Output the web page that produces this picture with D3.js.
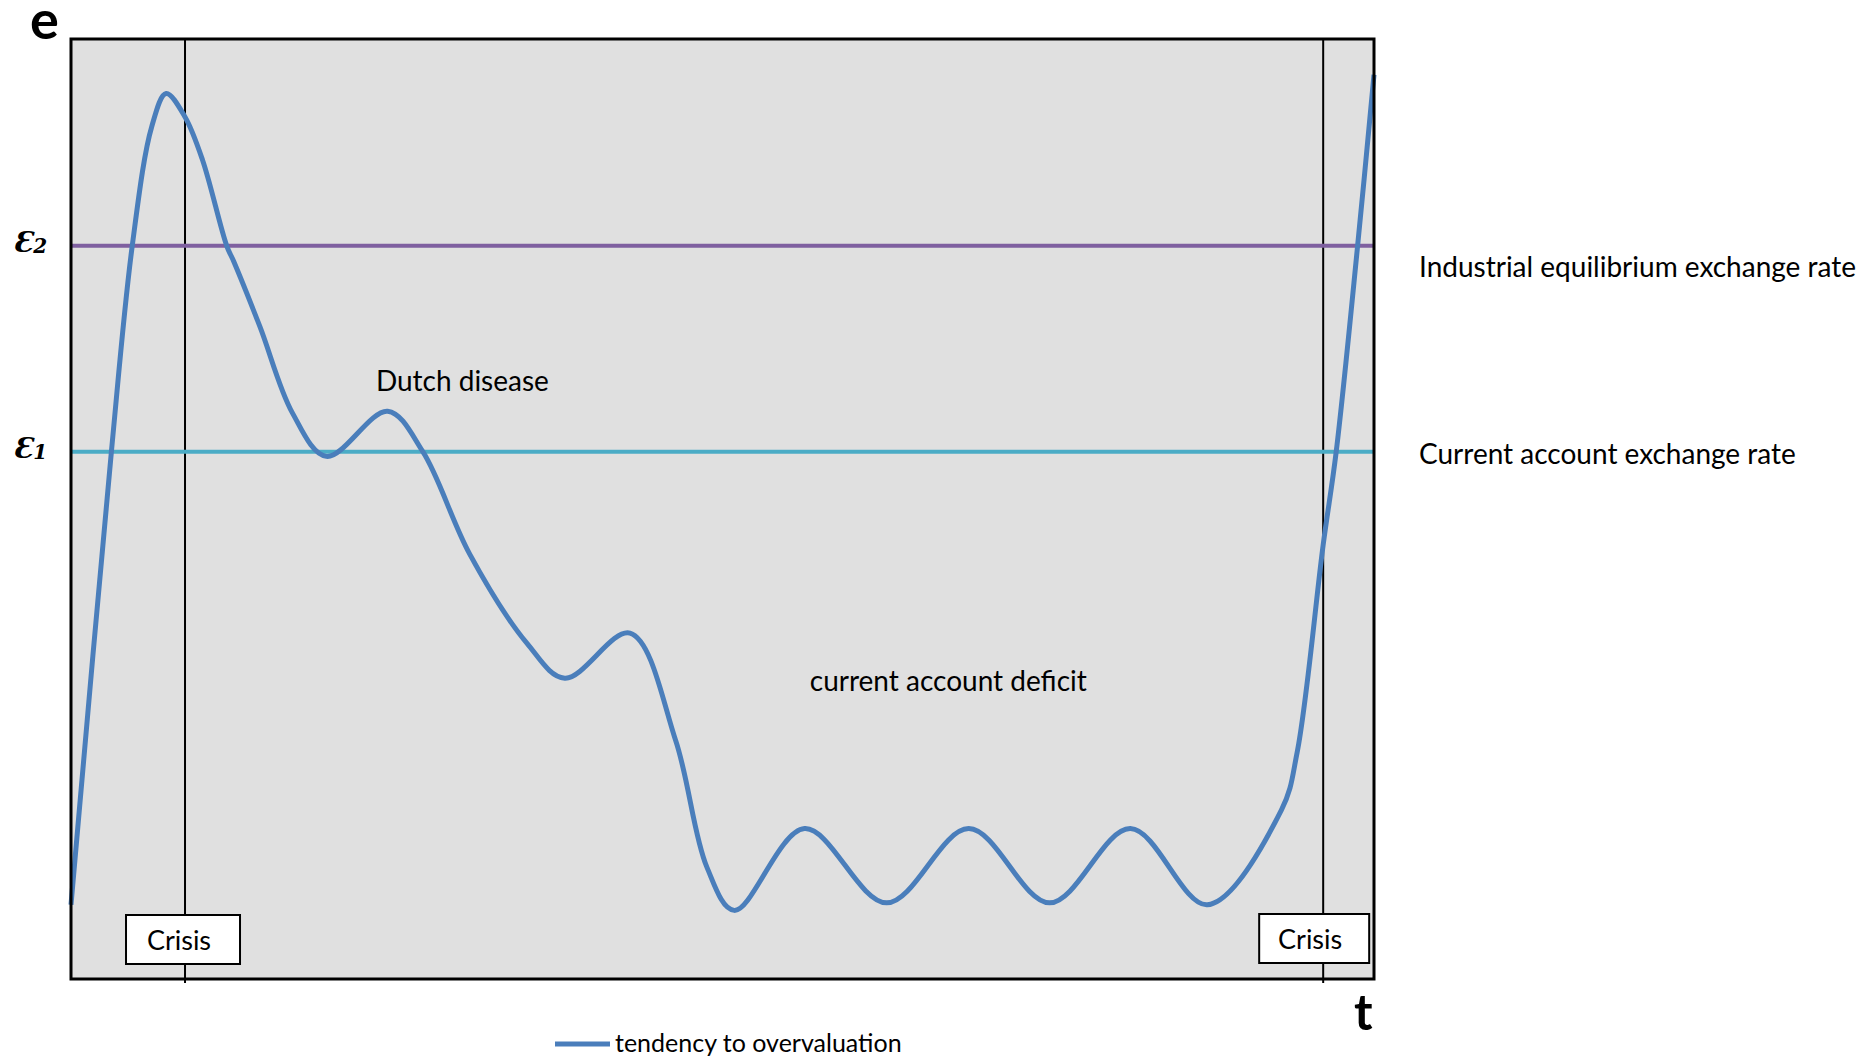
<!DOCTYPE html>
<html>
<head>
<meta charset="utf-8">
<script src="https://cdn.jsdelivr.net/npm/d3@7"></script>
<style>
  html, body { margin: 0; padding: 0; background: #fff; }
  svg { display: block; }
  text { font-family: Lato, "Open Sans", sans-serif; fill: #000; }
</style>
</head>
<body>
<div id="chart"></div>
<script>
// time (0..100 over the plot width) and exchange rate (0..100 over the plot height)
var tendencyT = [0, 3.1, 4.7, 6.2, 7.3, 8.75, 10.1, 11.95, 12.5, 14.5, 17.0, 19.6, 24.3,
  27.0, 30.6, 35.0, 37.9, 42.9, 46.4, 48.8, 50.9, 56.3, 62.6, 68.9,
  75.1, 81.3, 87.2, 92.9, 94.1, 96.1, 97.1, 98.75, 100];
var tendencyE = [7.9, 56.1, 78.0, 90.7, 94.2, 91.7, 87.1, 78.0, 76.3, 69.4, 60.2, 55.6, 60.4,
  56.1, 45.2, 35.7, 32.0, 36.8, 25.4, 11.9, 7.3, 16.0, 8.1, 16.0,
  8.1, 16.0, 7.9, 18.0, 24.1, 46.2, 56.1, 78.1, 96.2];

var rateNames = ['Industrial equilibrium exchange rate', 'Current account exchange rate'];
var rateSymbols = ['2', '1'];
var rateValues = [78.0, 56.1];
var rateColors = ['#7f60a0', '#4bacc6'];

var crisisT = [8.75, 96.1];
var crisisLabels = ['Crisis', 'Crisis'];

var notes = ['Dutch disease', 'current account deficit'];
var notesT = [23.4, 56.7];
var notesE = [62.6, 30.6];

var width = 1874, height = 1058;
var plot = { left: 71, right: 1374, top: 39, bottom: 979 };

var svg = d3.select('#chart').append('svg')
  .attr('width', width)
  .attr('height', height);

var x = d3.scaleLinear().domain([0, 100]).range([plot.left, plot.right]);
var y = d3.scaleLinear().domain([0, 100]).range([plot.bottom, plot.top]);

// plot background
svg.append('rect')
  .attr('x', plot.left).attr('y', plot.top)
  .attr('width', plot.right - plot.left).attr('height', plot.bottom - plot.top)
  .attr('fill', '#e0e0e0');

// crisis verticals
svg.selectAll('.crisis-line')
  .data(crisisT)
  .enter().append('line')
  .attr('class', 'crisis-line')
  .attr('x1', function(d) { return x(d); }).attr('x2', function(d) { return x(d); })
  .attr('y1', plot.top).attr('y2', plot.bottom + 4)
  .attr('stroke', '#000').attr('stroke-width', 2);

// horizontal exchange rate lines
svg.selectAll('.rate-line')
  .data(rateValues)
  .enter().append('line')
  .attr('class', 'rate-line')
  .attr('x1', plot.left).attr('x2', plot.right)
  .attr('y1', function(d) { return y(d); }).attr('y2', function(d) { return y(d); })
  .attr('stroke', function(d, i) { return rateColors[i]; })
  .attr('stroke-width', 4);

// rate labels on the right
var labelDy = [31, 12];
svg.selectAll('.rate-label')
  .data(rateValues)
  .enter().append('text')
  .attr('class', 'rate-label')
  .attr('x', plot.right + 45)
  .attr('y', function(d, i) { return y(d) + labelDy[i]; })
  .attr('font-size', 28)
  .text(function(d, i) { return rateNames[i]; });

// epsilon symbols on the left
var eps = svg.selectAll('.eps')
  .data(rateValues)
  .enter().append('text')
  .attr('class', 'eps')
  .attr('x', 13)
  .attr('y', function(d) { return y(d) + 6; })
  .style('font-family', '"DejaVu Serif", serif')
  .style('font-style', 'italic')
  .style('font-weight', 'bold');
eps.append('tspan').attr('font-size', 28).text('\u0190');
eps.append('tspan').attr('font-size', 20).attr('dy', 1).text(function(d, i) { return rateSymbols[i]; });

// curve (smoothed like the spreadsheet line)
var line = d3.line()
  .x(function(d) { return x(d[0]); })
  .y(function(d) { return y(d[1]); })
  .curve(d3.curveCatmullRom.alpha(0.5));

var pts = tendencyT.map(function(t, i) { return [t, tendencyE[i]]; });

svg.append('path')
  .datum(pts)
  .attr('d', line)
  .attr('fill', 'none')
  .attr('stroke', '#4a7ebb')
  .attr('stroke-width', 5)
  .attr('stroke-linejoin', 'round');

// frame
svg.append('rect')
  .attr('x', plot.left).attr('y', plot.top)
  .attr('width', plot.right - plot.left).attr('height', plot.bottom - plot.top)
  .attr('fill', 'none')
  .attr('stroke', '#000').attr('stroke-width', 3);

// crisis boxes
var boxOff = [-59, -64];
var boxW = [114, 110];
var box = svg.selectAll('.crisis-box')
  .data(crisisT)
  .enter().append('g')
  .attr('class', 'crisis-box');
box.append('rect')
  .attr('x', function(d, i) { return x(d) + boxOff[i]; })
  .attr('y', function(d, i) { return i === 0 ? 915 : 914; })
  .attr('width', function(d, i) { return boxW[i]; })
  .attr('height', 49)
  .attr('fill', '#fff')
  .attr('stroke', '#000').attr('stroke-width', 2);
box.append('text')
  .attr('x', function(d, i) { return x(d) + boxOff[i] + boxW[i] / 2 - 4; })
  .attr('y', function(d, i) { return i === 0 ? 950 : 949; })
  .attr('text-anchor', 'middle')
  .attr('font-size', 27)
  .text(function(d, i) { return crisisLabels[i]; });

// notes inside the plot
svg.selectAll('.note')
  .data(notes)
  .enter().append('text')
  .attr('class', 'note')
  .attr('x', function(d, i) { return x(notesT[i]); })
  .attr('y', function(d, i) { return y(notesE[i]); })
  .attr('font-size', 28)
  .text(function(d) { return d; });

// axis letters
svg.append('text')
  .attr('x', 30).attr('y', 39)
  .attr('font-size', 54).attr('font-weight', 'bold')
  .text('e');
svg.append('text')
  .attr('x', 1354).attr('y', 1030)
  .attr('font-size', 50).attr('font-weight', 'bold')
  .text('t');

// legend
svg.append('line')
  .attr('x1', 555).attr('x2', 610)
  .attr('y1', 1044).attr('y2', 1044)
  .attr('stroke', '#4a7ebb').attr('stroke-width', 5);
svg.append('text')
  .attr('x', 615).attr('y', 1052)
  .attr('font-size', 25)
  .text('tendency to overvaluation');
</script>
</body>
</html>
